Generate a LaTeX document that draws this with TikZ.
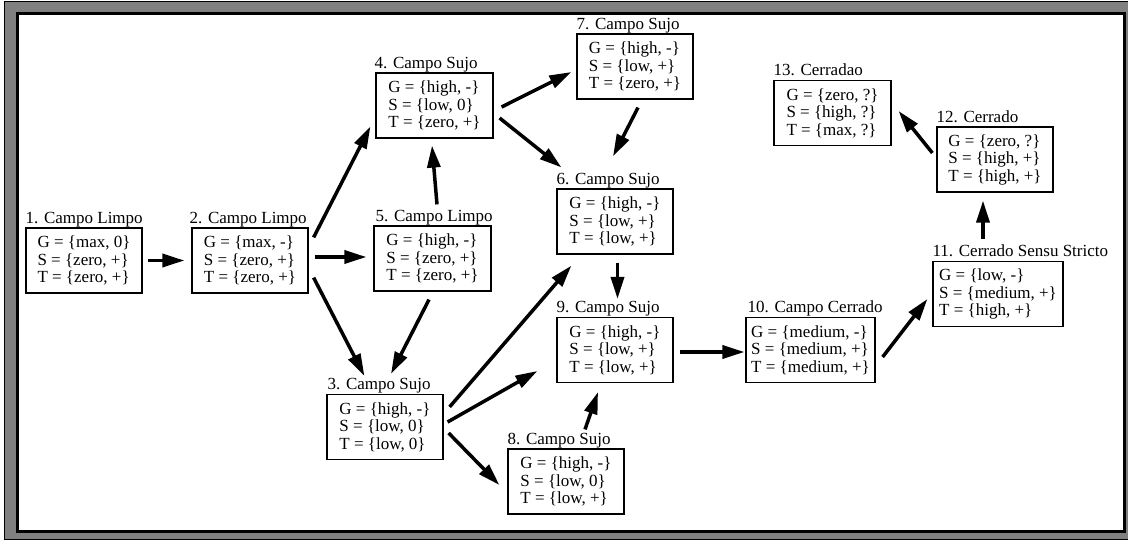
\documentclass[tikz,border=0pt]{standalone}
\usepackage{fontspec}
\setmainfont{Liberation Serif}
\usetikzlibrary{arrows.meta,calc}
\definecolor{framegray}{RGB}{128,128,128}
\begin{document}
\begin{tikzpicture}[x=1pt,y=-1pt,
  state/.style={draw, line width=1.2pt, minimum width=116pt, minimum height=65pt,
    inner xsep=4pt, inner ysep=3pt, align=left,
    font=\fontsize{17}{17.5}\selectfont},
  title/.style={anchor=base west, inner sep=0pt, font=\fontsize{17}{17.5}\selectfont},
  arr/.style={line width=3.5pt, -{Triangle[length=22pt,width=13pt]}}]
\useasboundingbox (0,0) rectangle (1128,541);
\fill[white] (0,0) rectangle (1128,541);
% frame
\draw[line width=1.5pt, fill=framegray] (4.5,1.5) rectangle (1131,539.5);
\draw[line width=3pt, fill=white] (17.5,13.5) rectangle (1124.5,531.5);

% states
\node[state] (n1) at (84,260.5) {G = \{max, 0\}\\S = \{zero, +\}\\T = \{zero, +\}};
\node[state] (n2) at (250,260.5) {G = \{max, -\}\\S = \{zero, +\}\\T = \{zero, +\}};
\node[state] (n3) at (385,427) {G = \{high, -\}\\S = \{low, 0\}\\T = \{low, 0\}};
\node[state, minimum width=117pt] (n4) at (434.5,105.5) {G = \{high, -\}\\S = \{low, 0\}\\T = \{zero, +\}};
\node[state, minimum width=117pt] (n5) at (432.5,258.5) {G = \{high, -\}\\S = \{zero, +\}\\T = \{zero, +\}};
\node[state] (n6) at (615,221.5) {G = \{high, -\}\\S = \{low, +\}\\T = \{low, +\}};
\node[state] (n7) at (635,66.5) {G = \{high, -\}\\S = \{low, +\}\\T = \{zero, +\}};
\node[state] (n8) at (566,481.5) {G = \{high, -\}\\S = \{low, 0\}\\T = \{low, +\}};
\node[state] (n9) at (615,350) {G = \{high, -\}\\S = \{low, +\}\\T = \{low, +\}};
\node[state, minimum width=129pt, inner xsep=2pt] (n10) at (810.5,350) {G = \{medium, -\}\\S = \{medium, +\}\\T = \{medium, +\}};
\node[state, minimum width=130pt] (n11) at (998,294) {G = \{low, -\}\\S = \{medium, +\}\\T = \{high, +\}};
\node[state] (n12) at (995,159.5) {G = \{zero, ?\}\\S = \{high, +\}\\T = \{high, +\}};
\node[state, minimum width=117pt] (n13) at (832.5,113) {G = \{zero, ?\}\\S = \{high, ?\}\\T = \{max, ?\}};

% titles
\node[title] (t1) at ($(n1.north west)+(0,-4)$) {1. Campo Limpo};
\node[title] (t2) at ($(n2.north west)+(-2,-4)$) {2. Campo Limpo};
\node[title] (t3) at ($(n3.north west)+(1,-4)$) {3. Campo Sujo};
\node[title] (t4) at ($(n4.north west)+(-1,-4)$) {4. Campo Sujo};
\node[title] (t5) at ($(n5.north west)+(2,-4)$) {5. Campo Limpo};
\node[title] (t6) at ($(n6.north west)+(0,-4)$) {6. Campo Sujo};
\node[title] (t7) at ($(n7.north west)+(0,-4)$) {7. Campo Sujo};
\node[title] (t8) at ($(n8.north west)+(0,-4)$) {8. Campo Sujo};
\node[title] (t9) at ($(n9.north west)+(0,-4)$) {9. Campo Sujo};
\node[title] (t10) at ($(n10.north west)+(2,-4)$) {10. Campo Cerrado};
\node[title] (t11) at ($(n11.north west)+(0,-4)$) {11. Cerrado Sensu Stricto};
\node[title] (t12) at ($(n12.north west)+(0,-4)$) {12. Cerrado};
\node[title] (t13) at ($(n13.north west)+(0,-4)$) {13. Cerradao};

% transitions
\draw[arr] ($(n1.east)+(5,0)$) -- ($(n2.west)+(-7,0)$);
\draw[arr] ($(n2.north east)+(5,10)$) -- ($(n4.south west)+(-5,-12)$);
\draw[arr] ($(n2.east)+(6,-3.5)$) -- ($(n5.west)+(-7,-1.5)$);
\draw[arr] ($(n2.south east)+(5,-16)$) -- ($(n3.north west)+(38,-18)$);
\draw[arr] ($(n5.south)+(-3.5,8)$) -- ($(n3.north)+(6,-20)$);
\draw[arr] ($(n5.north)+(4.5,-21)$) -- ($(n4.south)+(-2.5,7)$);
\draw[arr] ($(n4.east)+(8,1.5)$) -- ($(n7.west)+(-5,5.5)$);
\draw[arr] ($(n4.east)+(6,12.5)$) -- ($(n6.north west)+(5,-21)$);
\draw[arr] ($(n7.south)+(3,8)$) -- ($(n6.north)+(-2,-32)$);
\draw[arr] ($(n6.south)+(2.5,8)$) -- ($(n9.north)+(2.5,-18)$);
\draw[arr] ($(n3.north east)+(6,13)$) -- ($(n6.south west)+(15,11)$);
\draw[arr] ($(n3.east)+(4,-5)$) -- ($(n9.west)+(-19,21)$);
\draw[arr] ($(n3.east)+(5,6)$) -- ($(n8.west)+(-8,3.5)$);
\draw[arr] ($(n8.north)+(19,-19)$) -- ($(n9.south)+(-17,9)$);
\draw[arr] ($(n9.east)+(6,2)$) -- ($(n10.west)+(-1,2)$);
\draw[arr] ($(n10.east)+(7,7)$) -- ($(n11.west)+(-5,5)$);
\draw[arr] ($(n11.north)+(-15,-22)$) -- ($(n12.south)+(-12,8)$);
\draw[arr] ($(n12.west)+(-4,-6.5)$) -- ($(n13.east)+(7,-2)$);
\end{tikzpicture}
\end{document}
